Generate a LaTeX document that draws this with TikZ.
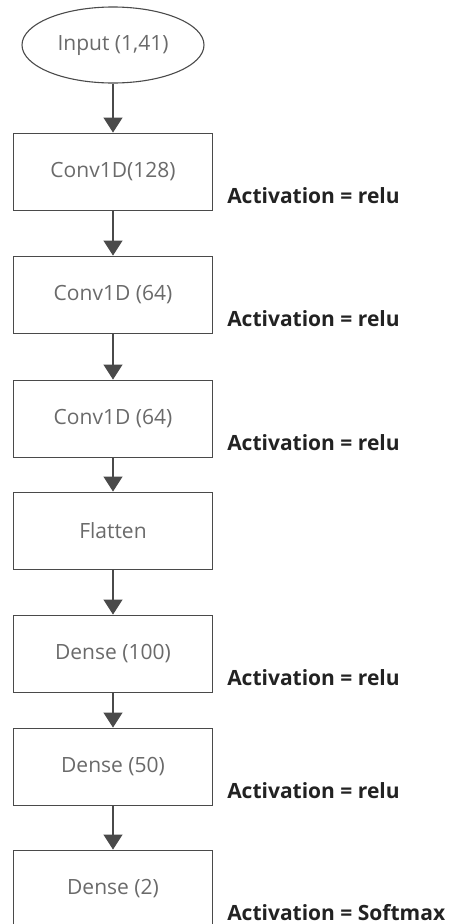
\documentclass[tikz,border=0pt]{standalone}
\usepackage{fontspec}
\setmainfont{Open Sans}
\usepackage{xcolor}
\usepackage{tikz}
\usetikzlibrary{positioning}
\usetikzlibrary{shapes.geometric}
\usetikzlibrary{arrows.meta}
\definecolor{edgegray}{HTML}{4A4A4A}
\definecolor{textgray}{HTML}{6A6A6A}
\definecolor{labelblack}{HTML}{222222}
\tikzset{
    layer/.style = {rectangle, draw=edgegray, line width=1.1pt, minimum width=199pt, minimum height=77pt, inner sep=0pt, text=textgray, font=\fontsize{21}{24}\selectfont},
    inputnode/.style = {ellipse, draw=edgegray, line width=1.1pt, minimum width=182pt, minimum height=76pt, inner sep=0pt, text=textgray, font=\fontsize{21}{24}\selectfont},
    actlabel/.style = {anchor=west, inner sep=0pt, text=labelblack, font=\bfseries\fontsize{21}{24}\selectfont},
    flow/.style = {-{Triangle[width=19pt,length=15pt]}, line width=1.1pt, draw=edgegray},
}

\begin{document}
\begin{tikzpicture}[x=1pt, y=1pt]
  \useasboundingbox (0,0) rectangle (449,-924);
  % layers
  \node[inputnode] (in) at (113,-45) {Input (1,41)};
  \node[layer, below=49pt of in] (c1) {Conv1D(128)};
  \node[layer, below=44.9pt of c1] (c2) {Conv1D (64)};
  \node[layer, below=45.9pt of c2] (c3) {Conv1D (64)};
  \node[layer, below=33.9pt of c3] (fl) {Flatten};
  \node[layer, below=44.9pt of fl] (d1) {Dense (100)};
  \node[layer, below=34.9pt of d1] (d2) {Dense (50)};
  \node[layer, below=43.9pt of d2] (d3) {Dense (2)};
  % activations
  \foreach \n/\act in {c1/relu, c2/relu, c3/relu, d1/relu, d2/relu, d3/Softmax}
    \node[actlabel] (a\n) at ([xshift=14pt, yshift=15pt]\n.south east) {Activation = \act};
  % arrows
  \draw[flow] (in) -- (c1);
  \draw[flow] (c1) -- (c2);
  \draw[flow] (c2) -- (c3);
  \draw[flow] (c3) -- (fl);
  \draw[flow] (fl) -- (d1);
  \draw[flow] (d1) -- (d2);
  \draw[flow] (d2) -- (d3);
\end{tikzpicture}
\end{document}
